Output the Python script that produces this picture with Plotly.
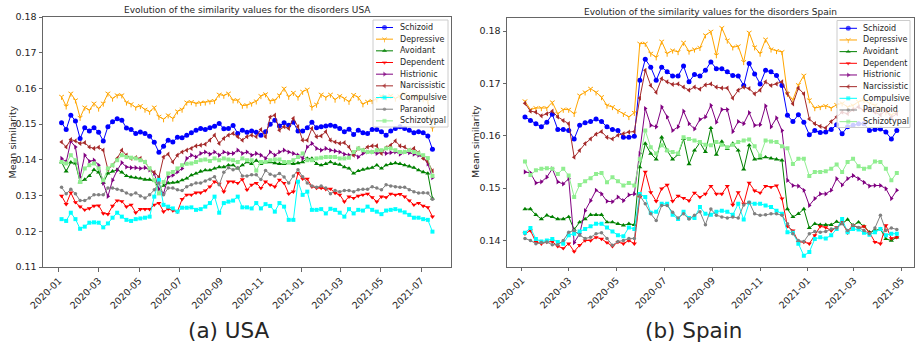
import plotly.graph_objects as go
import pandas as pd

W, H = 915, 347

disorders = ["Schizoid", "Depressive", "Avoidant", "Dependent", "Histrionic",
             "Narcissistic", "Compulsive", "Paranoid", "Schizotypal"]

# weekly sampling dates
usa_weeks = pd.date_range("2020-01-05", periods=81, freq="7D")
spain_weeks = pd.date_range("2020-01-05", periods=69, freq="7D")

# ---------------- USA ----------------
usa_schizoid = [
    0.1504, 0.1485, 0.1525, 0.1509, 0.1460, 0.1490, 0.1481, 0.1490, 0.1477, 0.1453,
    0.1493, 0.1507, 0.1515, 0.1511, 0.1489, 0.1485, 0.1474, 0.1478, 0.1474, 0.1466,
    0.1449, 0.1421, 0.1438, 0.1455, 0.1450, 0.1463, 0.1462, 0.1469, 0.1476, 0.1483,
    0.1488, 0.1485, 0.1490, 0.1494, 0.1502, 0.1487, 0.1488, 0.1496, 0.1474, 0.1483,
    0.1477, 0.1481, 0.1477, 0.1469, 0.1479, 0.1500, 0.1511, 0.1495, 0.1504, 0.1497,
    0.1505, 0.1481, 0.1481, 0.1490, 0.1505, 0.1490, 0.1493, 0.1495, 0.1497, 0.1494,
    0.1488, 0.1479, 0.1486, 0.1471, 0.1483, 0.1476, 0.1474, 0.1485, 0.1485, 0.1479,
    0.1469, 0.1481, 0.1488, 0.1493, 0.1488, 0.1483, 0.1476, 0.1479, 0.1476, 0.1467,
    0.1430]
usa_depressive = [
    0.1577, 0.1550, 0.1586, 0.1567, 0.1518, 0.1547, 0.1539, 0.1558, 0.1544, 0.1558,
    0.1586, 0.1572, 0.1581, 0.1581, 0.1561, 0.1556, 0.1547, 0.1551, 0.1541, 0.1535,
    0.1547, 0.1521, 0.1514, 0.1525, 0.1516, 0.1536, 0.1541, 0.1561, 0.1562, 0.1558,
    0.1560, 0.1561, 0.1564, 0.1565, 0.1583, 0.1580, 0.1586, 0.1567, 0.1567, 0.1552,
    0.1553, 0.1558, 0.1564, 0.1579, 0.1584, 0.1565, 0.1567, 0.1581, 0.1600, 0.1577,
    0.1588, 0.1575, 0.1591, 0.1597, 0.1547, 0.1555, 0.1583, 0.1575, 0.1583, 0.1569,
    0.1579, 0.1572, 0.1563, 0.1582, 0.1575, 0.1556, 0.1563, 0.1565, 0.1570, 0.1579,
    0.1575, 0.1580, 0.1572, 0.1578, 0.1585, 0.1570, 0.1575, 0.1580, 0.1570, 0.1565,
    0.1488]
usa_avoidant = [
    0.1394, 0.1368, 0.1393, 0.1390, 0.1338, 0.1345, 0.1355, 0.1372, 0.1365, 0.1336,
    0.1362, 0.1368, 0.1372, 0.1365, 0.1355, 0.1352, 0.1350, 0.1348, 0.1345, 0.1345,
    0.1342, 0.1318, 0.1328, 0.1335, 0.1336, 0.1338, 0.1343, 0.1348, 0.1357, 0.1362,
    0.1368, 0.1371, 0.1371, 0.1376, 0.1380, 0.1380, 0.1385, 0.1385, 0.1376, 0.1385,
    0.1394, 0.1389, 0.1398, 0.1389, 0.1394, 0.1394, 0.1391, 0.1389, 0.1389, 0.1391,
    0.1389, 0.1391, 0.1394, 0.1404, 0.1404, 0.1389, 0.1385, 0.1389, 0.1394, 0.1389,
    0.1387, 0.1380, 0.1376, 0.1362, 0.1369, 0.1373, 0.1376, 0.1378, 0.1385, 0.1376,
    0.1385, 0.1389, 0.1391, 0.1389, 0.1385, 0.1382, 0.1378, 0.1371, 0.1366, 0.1362,
    0.1292]
usa_dependent = [
    0.1299, 0.1276, 0.1308, 0.1281, 0.1269, 0.1260, 0.1264, 0.1271, 0.1272, 0.1250,
    0.1248, 0.1271, 0.1286, 0.1284, 0.1269, 0.1274, 0.1252, 0.1262, 0.1262, 0.1262,
    0.1274, 0.1279, 0.1255, 0.1263, 0.1258, 0.1255, 0.1290, 0.1302, 0.1302, 0.1308,
    0.1308, 0.1314, 0.1325, 0.1339, 0.1333, 0.1311, 0.1339, 0.1339, 0.1335, 0.1345,
    0.1316, 0.1330, 0.1335, 0.1321, 0.1339, 0.1330, 0.1325, 0.1344, 0.1335, 0.1305,
    0.1311, 0.1363, 0.1347, 0.1347, 0.1325, 0.1321, 0.1321, 0.1318, 0.1319, 0.1307,
    0.1302, 0.1283, 0.1297, 0.1293, 0.1299, 0.1302, 0.1305, 0.1295, 0.1283, 0.1297,
    0.1295, 0.1305, 0.1302, 0.1304, 0.1297, 0.1286, 0.1274, 0.1279, 0.1271, 0.1267,
    0.1241]
usa_histrionic = [
    0.1404, 0.1394, 0.1452, 0.1436, 0.1352, 0.1413, 0.1396, 0.1399, 0.1385, 0.1335,
    0.1298, 0.1343, 0.1371, 0.1392, 0.1380, 0.1378, 0.1378, 0.1376, 0.1378, 0.1372,
    0.1362, 0.1318, 0.1305, 0.1352, 0.1357, 0.1366, 0.1376, 0.1404, 0.1413, 0.1408,
    0.1418, 0.1422, 0.1416, 0.1422, 0.1413, 0.1422, 0.1418, 0.1418, 0.1427, 0.1418,
    0.1422, 0.1413, 0.1418, 0.1413, 0.1404, 0.1422, 0.1413, 0.1422, 0.1427, 0.1422,
    0.1418, 0.1413, 0.1404, 0.1436, 0.1446, 0.1432, 0.1427, 0.1432, 0.1427, 0.1425,
    0.1422, 0.1416, 0.1413, 0.1416, 0.1408, 0.1418, 0.1422, 0.1422, 0.1418, 0.1422,
    0.1418, 0.1420, 0.1422, 0.1416, 0.1422, 0.1420, 0.1416, 0.1413, 0.1408, 0.1389,
    0.1350]
usa_narcissistic = [
    0.1450, 0.1436, 0.1457, 0.1453, 0.1446, 0.1448, 0.1436, 0.1432, 0.1435, 0.1427,
    0.1373, 0.1385, 0.1404, 0.1427, 0.1413, 0.1404, 0.1406, 0.1404, 0.1394, 0.1375,
    0.1365, 0.1352, 0.1408, 0.1416, 0.1394, 0.1413, 0.1422, 0.1427, 0.1432, 0.1439,
    0.1441, 0.1444, 0.1455, 0.1469, 0.1446, 0.1460, 0.1469, 0.1474, 0.1465, 0.1455,
    0.1465, 0.1469, 0.1465, 0.1485, 0.1465, 0.1520, 0.1525, 0.1483, 0.1493, 0.1488,
    0.1516, 0.1493, 0.1455, 0.1455, 0.1488, 0.1465, 0.1467, 0.1479, 0.1455, 0.1450,
    0.1446, 0.1448, 0.1436, 0.1413, 0.1432, 0.1427, 0.1436, 0.1439, 0.1439, 0.1418,
    0.1434, 0.1441, 0.1453, 0.1439, 0.1436, 0.1427, 0.1432, 0.1420, 0.1404, 0.1395,
    0.1369]
usa_compulsive = [
    0.1234, 0.1229, 0.1252, 0.1234, 0.1207, 0.1213, 0.1224, 0.1225, 0.1224, 0.1211,
    0.1222, 0.1238, 0.1252, 0.1241, 0.1232, 0.1229, 0.1234, 0.1236, 0.1238, 0.1241,
    0.1297, 0.1344, 0.1274, 0.1269, 0.1264, 0.1255, 0.1266, 0.1266, 0.1267, 0.1260,
    0.1262, 0.1269, 0.1279, 0.1297, 0.1252, 0.1279, 0.1283, 0.1286, 0.1297, 0.1267,
    0.1267, 0.1264, 0.1279, 0.1264, 0.1276, 0.1271, 0.1255, 0.1279, 0.1269, 0.1232,
    0.1232, 0.1339, 0.1302, 0.1311, 0.1260, 0.1260, 0.1262, 0.1250, 0.1263, 0.1260,
    0.1252, 0.1241, 0.1262, 0.1250, 0.1260, 0.1258, 0.1269, 0.1260, 0.1255, 0.1248,
    0.1258, 0.1260, 0.1262, 0.1258, 0.1253, 0.1246, 0.1238, 0.1238, 0.1234, 0.1232,
    0.1199]
usa_paranoid = [
    0.1323, 0.1305, 0.1318, 0.1305, 0.1286, 0.1286, 0.1293, 0.1302, 0.1302, 0.1302,
    0.1321, 0.1321, 0.1318, 0.1314, 0.1307, 0.1302, 0.1307, 0.1299, 0.1293, 0.1302,
    0.1316, 0.1335, 0.1302, 0.1321, 0.1321, 0.1316, 0.1314, 0.1325, 0.1330, 0.1335,
    0.1335, 0.1341, 0.1346, 0.1353, 0.1330, 0.1365, 0.1378, 0.1372, 0.1378, 0.1355,
    0.1355, 0.1358, 0.1358, 0.1345, 0.1370, 0.1360, 0.1355, 0.1362, 0.1352, 0.1335,
    0.1355, 0.1372, 0.1353, 0.1335, 0.1327, 0.1323, 0.1327, 0.1321, 0.1305, 0.1314,
    0.1311, 0.1314, 0.1314, 0.1311, 0.1316, 0.1318, 0.1318, 0.1325, 0.1321, 0.1316,
    0.1330, 0.1327, 0.1325, 0.1323, 0.1323, 0.1316, 0.1311, 0.1307, 0.1308, 0.1307,
    0.1290]
usa_schizotypal = [
    0.1394, 0.1390, 0.1413, 0.1399, 0.1338, 0.1376, 0.1385, 0.1390, 0.1376, 0.1343,
    0.1376, 0.1385, 0.1399, 0.1413, 0.1408, 0.1406, 0.1404, 0.1399, 0.1394, 0.1376,
    0.1343, 0.1306, 0.1338, 0.1362, 0.1366, 0.1376, 0.1385, 0.1389, 0.1390, 0.1394,
    0.1399, 0.1401, 0.1397, 0.1404, 0.1399, 0.1404, 0.1401, 0.1399, 0.1394, 0.1404,
    0.1399, 0.1399, 0.1370, 0.1394, 0.1394, 0.1399, 0.1401, 0.1401, 0.1394, 0.1394,
    0.1399, 0.1408, 0.1418, 0.1399, 0.1399, 0.1404, 0.1406, 0.1408, 0.1408, 0.1408,
    0.1404, 0.1404, 0.1406, 0.1422, 0.1432, 0.1427, 0.1422, 0.1422, 0.1427, 0.1427,
    0.1432, 0.1432, 0.1427, 0.1422, 0.1422, 0.1427, 0.1422, 0.1418, 0.1413, 0.1405,
    0.1355]

# ---------------- Spain ----------------
spain_schizoid = [
    0.1636, 0.1629, 0.1623, 0.1617, 0.1626, 0.1641, 0.1612, 0.1612, 0.1610, 0.1594,
    0.1620, 0.1625, 0.1627, 0.1632, 0.1627, 0.1617, 0.1612, 0.1610, 0.1597, 0.1597,
    0.1599, 0.1706, 0.1746, 0.1731, 0.1706, 0.1731, 0.1722, 0.1714, 0.1714, 0.1733,
    0.1703, 0.1717, 0.1714, 0.1725, 0.1741, 0.1728, 0.1728, 0.1722, 0.1715, 0.1714,
    0.1696, 0.1738, 0.1718, 0.1699, 0.1725, 0.1722, 0.1715, 0.1696, 0.1639, 0.1627,
    0.1640, 0.1626, 0.1602, 0.1610, 0.1606, 0.1607, 0.1612, 0.1621, 0.1604, 0.1617,
    0.1620, 0.1623, 0.1623, 0.1610, 0.1612, 0.1613, 0.1607, 0.1594, 0.1610]
spain_depressive = [
    0.1666, 0.1650, 0.1653, 0.1653, 0.1653, 0.1664, 0.1642, 0.1650, 0.1650, 0.1642,
    0.1677, 0.1683, 0.1690, 0.1683, 0.1674, 0.1658, 0.1655, 0.1648, 0.1642, 0.1636,
    0.1644, 0.1776, 0.1776, 0.1757, 0.1750, 0.1780, 0.1757, 0.1763, 0.1760, 0.1778,
    0.1761, 0.1765, 0.1768, 0.1792, 0.1799, 0.1754, 0.1806, 0.1782, 0.1769, 0.1771,
    0.1741, 0.1797, 0.1769, 0.1757, 0.1784, 0.1765, 0.1762, 0.1760, 0.1680, 0.1669,
    0.1697, 0.1715, 0.1668, 0.1653, 0.1655, 0.1657, 0.1653, 0.1659, 0.1662, 0.1655,
    0.1658, 0.1665, 0.1668, 0.1662, 0.1658, 0.1652, 0.1645, 0.1640, 0.1645]
spain_avoidant = [
    0.1460, 0.1460, 0.1449, 0.1441, 0.1448, 0.1445, 0.1441, 0.1441, 0.1445, 0.1421,
    0.1435, 0.1441, 0.1449, 0.1449, 0.1449, 0.1435, 0.1435, 0.1432, 0.1429, 0.1432,
    0.1430, 0.1540, 0.1585, 0.1566, 0.1555, 0.1597, 0.1572, 0.1555, 0.1564, 0.1594,
    0.1546, 0.1572, 0.1587, 0.1569, 0.1615, 0.1564, 0.1589, 0.1575, 0.1585, 0.1572,
    0.1536, 0.1582, 0.1555, 0.1557, 0.1559, 0.1557, 0.1555, 0.1553, 0.1460, 0.1445,
    0.1451, 0.1460, 0.1424, 0.1432, 0.1430, 0.1430, 0.1430, 0.1436, 0.1432, 0.1440,
    0.1429, 0.1435, 0.1427, 0.1416, 0.1419, 0.1422, 0.1403, 0.1400, 0.1406]
spain_dependent = [
    0.1413, 0.1419, 0.1397, 0.1394, 0.1397, 0.1398, 0.1389, 0.1385, 0.1394, 0.1379,
    0.1391, 0.1400, 0.1400, 0.1406, 0.1403, 0.1396, 0.1389, 0.1397, 0.1394, 0.1400,
    0.1394, 0.1483, 0.1531, 0.1492, 0.1475, 0.1499, 0.1506, 0.1475, 0.1485, 0.1481,
    0.1476, 0.1491, 0.1483, 0.1489, 0.1504, 0.1489, 0.1489, 0.1504, 0.1468, 0.1492,
    0.1470, 0.1510, 0.1495, 0.1491, 0.1504, 0.1502, 0.1505, 0.1480, 0.1427, 0.1419,
    0.1397, 0.1397, 0.1394, 0.1410, 0.1427, 0.1425, 0.1419, 0.1425, 0.1435, 0.1415,
    0.1429, 0.1424, 0.1427, 0.1415, 0.1397, 0.1394, 0.1429, 0.1404, 0.1406]
spain_histrionic = [
    0.1531, 0.1529, 0.1510, 0.1512, 0.1521, 0.1537, 0.1512, 0.1508, 0.1518, 0.1396,
    0.1413, 0.1457, 0.1476, 0.1496, 0.1489, 0.1475, 0.1474, 0.1483, 0.1476, 0.1487,
    0.1489, 0.1566, 0.1652, 0.1620, 0.1617, 0.1655, 0.1636, 0.1610, 0.1617, 0.1647,
    0.1623, 0.1613, 0.1631, 0.1636, 0.1658, 0.1626, 0.1650, 0.1650, 0.1608, 0.1627,
    0.1623, 0.1644, 0.1620, 0.1621, 0.1657, 0.1617, 0.1634, 0.1610, 0.1515, 0.1505,
    0.1504, 0.1496, 0.1467, 0.1480, 0.1489, 0.1489, 0.1496, 0.1518, 0.1506, 0.1518,
    0.1524, 0.1518, 0.1511, 0.1504, 0.1505, 0.1505, 0.1499, 0.1480, 0.1496]
spain_narcissistic = [
    0.1662, 0.1647, 0.1645, 0.1638, 0.1642, 0.1647, 0.1636, 0.1629, 0.1623, 0.1559,
    0.1572, 0.1585, 0.1594, 0.1603, 0.1608, 0.1597, 0.1594, 0.1601, 0.1604, 0.1607,
    0.1608, 0.1672, 0.1725, 0.1696, 0.1683, 0.1709, 0.1703, 0.1698, 0.1699, 0.1693,
    0.1687, 0.1693, 0.1689, 0.1697, 0.1699, 0.1693, 0.1691, 0.1691, 0.1672, 0.1687,
    0.1693, 0.1690, 0.1680, 0.1687, 0.1703, 0.1696, 0.1699, 0.1703, 0.1680, 0.1661,
    0.1691, 0.1680, 0.1632, 0.1623, 0.1618, 0.1615, 0.1627, 0.1636, 0.1645, 0.1642,
    0.1650, 0.1655, 0.1648, 0.1652, 0.1645, 0.1640, 0.1648, 0.1635, 0.1642]
spain_compulsive = [
    0.1415, 0.1424, 0.1403, 0.1398, 0.1400, 0.1403, 0.1397, 0.1394, 0.1410, 0.1413,
    0.1417, 0.1422, 0.1427, 0.1432, 0.1432, 0.1425, 0.1417, 0.1410, 0.1408, 0.1425,
    0.1422, 0.1489, 0.1483, 0.1453, 0.1455, 0.1470, 0.1470, 0.1449, 0.1441, 0.1455,
    0.1443, 0.1443, 0.1464, 0.1451, 0.1449, 0.1455, 0.1457, 0.1455, 0.1449, 0.1470,
    0.1440, 0.1472, 0.1470, 0.1470, 0.1467, 0.1464, 0.1457, 0.1451, 0.1416, 0.1415,
    0.1394, 0.1371, 0.1378, 0.1403, 0.1406, 0.1404, 0.1410, 0.1422, 0.1441, 0.1416,
    0.1422, 0.1421, 0.1415, 0.1411, 0.1416, 0.1422, 0.1410, 0.1413, 0.1413]
spain_paranoid = [
    0.1404, 0.1400, 0.1394, 0.1396, 0.1397, 0.1392, 0.1392, 0.1400, 0.1416, 0.1419,
    0.1410, 0.1404, 0.1406, 0.1413, 0.1415, 0.1404, 0.1391, 0.1398, 0.1400, 0.1404,
    0.1404, 0.1486, 0.1470, 0.1451, 0.1438, 0.1467, 0.1467, 0.1454, 0.1443, 0.1451,
    0.1441, 0.1448, 0.1455, 0.1430, 0.1460, 0.1448, 0.1445, 0.1443, 0.1445, 0.1443,
    0.1468, 0.1473, 0.1451, 0.1448, 0.1449, 0.1451, 0.1451, 0.1448, 0.1432, 0.1413,
    0.1400, 0.1398, 0.1413, 0.1417, 0.1416, 0.1417, 0.1422, 0.1424, 0.1432, 0.1419,
    0.1429, 0.1425, 0.1419, 0.1413, 0.1424, 0.1448, 0.1419, 0.1424, 0.1421]
spain_schizotypal = [
    0.1551, 0.1525, 0.1534, 0.1537, 0.1538, 0.1537, 0.1527, 0.1537, 0.1524, 0.1483,
    0.1506, 0.1513, 0.1519, 0.1527, 0.1529, 0.1511, 0.1521, 0.1513, 0.1505, 0.1510,
    0.1505, 0.1555, 0.1610, 0.1578, 0.1566, 0.1582, 0.1572, 0.1569, 0.1566, 0.1597,
    0.1594, 0.1591, 0.1588, 0.1583, 0.1582, 0.1588, 0.1583, 0.1578, 0.1583, 0.1588,
    0.1591, 0.1593, 0.1580, 0.1562, 0.1591, 0.1589, 0.1588, 0.1580, 0.1576, 0.1546,
    0.1556, 0.1556, 0.1523, 0.1531, 0.1531, 0.1532, 0.1537, 0.1545, 0.1531, 0.1550,
    0.1556, 0.1542, 0.1537, 0.1540, 0.1551, 0.1550, 0.1537, 0.1515, 0.1529]

usa_series = [usa_schizoid, usa_depressive, usa_avoidant, usa_dependent, usa_histrionic,
              usa_narcissistic, usa_compulsive, usa_paranoid, usa_schizotypal]
spain_series = [spain_schizoid, spain_depressive, spain_avoidant, spain_dependent,
                spain_histrionic, spain_narcissistic, spain_compulsive, spain_paranoid,
                spain_schizotypal]

# ---------------- styling ----------------
colors = ["#0000ff", "#ffa500", "#008000", "#ff0000", "#800080",
          "#a52a2a", "#00ffff", "#808080", "#90ee90"]
symbols = ["circle", "y-down", "triangle-up", "triangle-down", "triangle-right",
           "triangle-left", "square", "circle", "square"]
msizes = [5, 4, 4.5, 4.5, 4.5, 4.5, 4, 3.5, 4]

FONT = "DejaVu Sans"
TXT = "#262626"
FRAME = "#666666"


def px(x):
    return x / W


def py(y):
    return 1 - y / H


def marker_style(k, size=None):
    s = msizes[k] if size is None else size
    m = dict(symbol=symbols[k], size=s, color=colors[k])
    if symbols[k] == "y-down":
        m["line"] = dict(width=1, color=colors[k])
    else:
        m["line"] = dict(width=0)
    return m


fig = go.Figure()

for weeks, series, xa, ya in [(usa_weeks, usa_series, "x", "y"),
                              (spain_weeks, spain_series, "x2", "y2")]:
    for k, vals in enumerate(series):
        fig.add_trace(go.Scatter(
            x=weeks, y=vals, mode="lines+markers", name=disorders[k],
            line=dict(color=colors[k], width=1),
            marker=marker_style(k), xaxis=xa, yaxis=ya, showlegend=False,
        ))

# legend panels drawn on a pixel-unit overlay axis
legend_boxes = [
    dict(x0=373, x1=448, y0=20, y1=127, line0=376, line1=393, text=398, first=27.5),
    dict(x0=837, x1=910, y0=20.5, y1=127.5, line0=839.5, line1=857, text=861, first=28.3),
]
step = 11.67
for box in legend_boxes:
    fig.add_trace(go.Scatter(
        x=[box["x0"], box["x1"], box["x1"], box["x0"], box["x0"]],
        y=[box["y0"], box["y0"], box["y1"], box["y1"], box["y0"]],
        mode="lines", fill="toself", fillcolor="rgba(255,255,255,0.8)",
        line=dict(color="#cccccc", width=1), xaxis="x3", yaxis="y3",
        showlegend=False, hoverinfo="skip",
    ))
    for k in range(len(disorders)):
        yk = box["first"] + k * step
        m = marker_style(k)
        m["size"] = [0, m["size"], 0]
        fig.add_trace(go.Scatter(
            x=[box["line0"], (box["line0"] + box["line1"]) / 2, box["line1"]],
            y=[yk, yk, yk], mode="lines+markers",
            line=dict(color=colors[k], width=1), marker=m,
            xaxis="x3", yaxis="y3", showlegend=False, hoverinfo="skip",
        ))
        fig.add_annotation(x=box["text"], y=yk, xref="x3", yref="y3",
                           text=disorders[k], showarrow=False, xanchor="left",
                           yanchor="middle", font=dict(family=FONT, size=8, color=TXT))

axis_common = dict(showline=True, mirror=True, linecolor=FRAME, linewidth=1,
                   ticks="outside", ticklen=3.5, tickwidth=1, tickcolor=FRAME,
                   showgrid=False, zeroline=False, automargin=False,
                   tickfont=dict(family=FONT, size=9.5, color=TXT))

fig.update_layout(
    width=W, height=H, margin=dict(l=0, r=0, t=0, b=0),
    paper_bgcolor="white", plot_bgcolor="rgba(0,0,0,0)", showlegend=False,
    xaxis=dict(domain=[px(43), px(451)], anchor="y", type="date",
               range=["2019-12-08", "2021-08-15"], tick0="2020-01-01", dtick="M2",
               tickformat="%Y-%m", tickangle=-45, **axis_common),
    yaxis=dict(domain=[py(267), py(17)], anchor="x", range=[0.11, 0.18],
               dtick=0.01, tickformat=".2f", **axis_common),
    xaxis2=dict(domain=[px(507), px(914)], anchor="y2", type="date",
                range=["2019-12-13", "2021-05-17"], tick0="2020-01-01", dtick="M2",
                tickformat="%Y-%m", tickangle=-45, **axis_common),
    yaxis2=dict(domain=[py(266.7), py(17.7)], anchor="x2", range=[0.1350, 0.18254],
                tick0=0.14, dtick=0.01, tickformat=".2f", **axis_common),
    xaxis3=dict(domain=[0, 1], anchor="y3", range=[0, W], visible=False, fixedrange=True),
    yaxis3=dict(domain=[0, 1], anchor="x3", range=[H, 0], visible=False, fixedrange=True),
)

# panel titles, axis titles and captions
texts = [
    ("Evolution of the similarity values for the disorders USA", 247, 10.5, 9, 0),
    ("Evolution of the similarity values for the disorders Spain", 710, 11.5, 9, 0),
    ("Mean similarity", 11.5, 142, 9.5, -90),
    ("Mean similarity", 475, 142, 9.5, -90),
    ("(a) USA", 228.5, 330, 21.5, 0),
    ("(b) Spain", 693, 330, 21.5, 0),
]
for text, x, y, size, angle in texts:
    fig.add_annotation(x=px(x), y=py(y), xref="paper", yref="paper", text=text,
                       showarrow=False, xanchor="center", yanchor="middle",
                       textangle=angle, font=dict(family=FONT, size=size, color=TXT))

fig.write_html("out.html")
